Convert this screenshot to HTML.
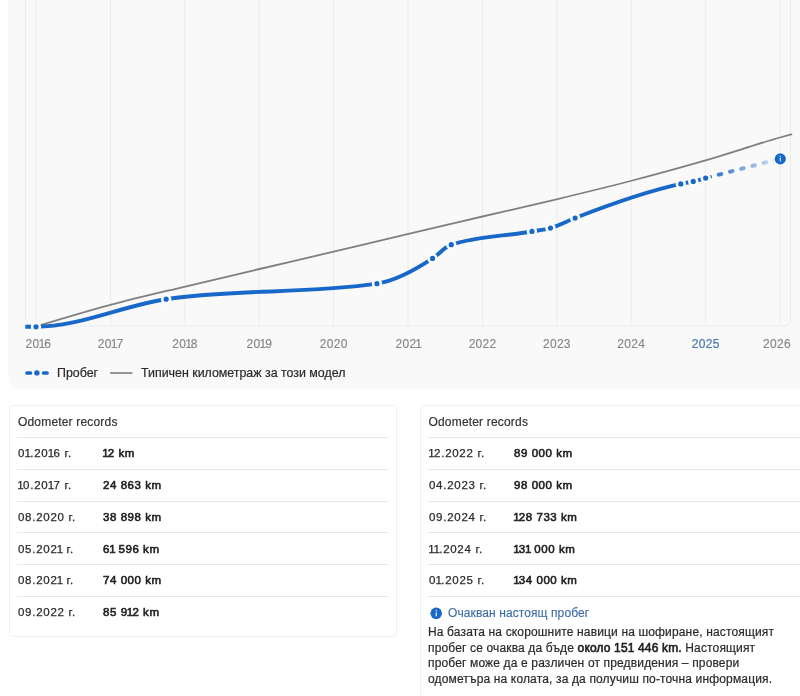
<!DOCTYPE html>
<html><head><meta charset="utf-8">
<style>
*{box-sizing:border-box;margin:0;padding:0}
html,body{width:800px;height:696px;overflow:hidden;background:#fff}
body{position:relative;-webkit-font-smoothing:antialiased;font-family:"Liberation Sans",sans-serif;color:#222}
.panel{position:absolute;left:8px;top:-30px;width:830px;height:418.5px;background:#f9f9f9;border-radius:12px}
svg.chart{position:absolute;left:0;top:0;width:800px;height:400px;overflow:visible}
.lab{position:absolute;top:337px;font-size:12px;line-height:14px;color:#868686;white-space:nowrap;-webkit-text-stroke:0.15px #868686}
.lab.c{width:60px;text-align:center}
.lab{letter-spacing:0.3px}
.lab i{font-style:normal;letter-spacing:-1.0px;margin-left:-1.0px}
.lab.cur{color:#4a77ab;-webkit-text-stroke:0.2px #4a77ab}
.legend{position:absolute;top:365.5px;left:25px;height:14px;font-size:12.4px;line-height:14px;color:#2a2a2a;white-space:nowrap;-webkit-text-stroke:0.2px #2a2a2a}
.legend span{position:absolute;top:0}
.card{position:absolute;top:405px;border:1px solid #f0f0f0;border-radius:3.5px;background:#fff}
.card h3{font-weight:normal;font-size:12px;line-height:14px;color:#333;position:absolute;left:7.5px;top:8.5px;white-space:nowrap;letter-spacing:0.18px;-webkit-text-stroke:0.2px #333}
.rows{position:absolute;left:6px;right:7px;top:31px}
.row{height:31.75px;border-top:1px solid #e8e8e8;position:relative;font-size:11.5px;color:#333}
.row .d{position:absolute;left:1px;color:#2a2a2a;-webkit-text-stroke:0.25px #2a2a2a;top:8.4px;line-height:14px;white-space:nowrap;letter-spacing:0.72px}
.row .d i{font-style:normal;letter-spacing:-0.65px;margin-left:-0.65px}
.row b{position:absolute;left:86px;top:8.4px;line-height:14px;white-space:nowrap;color:#1e1e1e;font-weight:normal;-webkit-text-stroke:0.6px #1e1e1e;letter-spacing:0.55px}
.row b i{font-style:normal;letter-spacing:-0.8px;margin-left:-0.8px}
.exp{position:absolute;left:27px;top:200px;font-size:12px;line-height:14px;color:#3f6fa8;white-space:nowrap;letter-spacing:0.1px;-webkit-text-stroke:0.15px #3f6fa8}
.para{position:absolute;left:7px;top:219.3px;font-size:12px;line-height:15.6px;color:#2a2a2a;white-space:nowrap;letter-spacing:0.15px;-webkit-text-stroke:0.2px #2a2a2a}
.para b{color:#1e1e1e;font-weight:normal;-webkit-text-stroke:0.6px #1e1e1e;letter-spacing:0.15px}
</style></head><body><div id="w" style="position:absolute;left:0;top:0;width:800px;height:696px;will-change:transform">
<div class="panel"></div>
<svg class="chart" viewBox="0 0 800 400">
<defs>
<linearGradient id="pg" gradientUnits="userSpaceOnUse" x1="705" y1="0" x2="780" y2="0">
<stop offset="0" stop-color="#1868c9" stop-opacity="1"/>
<stop offset="1" stop-color="#1868c9" stop-opacity="0.12"/>
</linearGradient>
</defs>
<g stroke="#ececec" stroke-width="1" fill="none"><line x1="36.00" y1="-30" x2="36.00" y2="326" /><line x1="110.54" y1="-30" x2="110.54" y2="326" /><line x1="184.88" y1="-30" x2="184.88" y2="326" /><line x1="259.22" y1="-30" x2="259.22" y2="326" /><line x1="333.56" y1="-30" x2="333.56" y2="326" /><line x1="408.10" y1="-30" x2="408.10" y2="326" /><line x1="482.44" y1="-30" x2="482.44" y2="326" /><line x1="556.78" y1="-30" x2="556.78" y2="326" /><line x1="631.12" y1="-30" x2="631.12" y2="326" /><line x1="705.66" y1="-30" x2="705.66" y2="326" /><line x1="780.00" y1="-30" x2="780.00" y2="326" />
<path d="M25.5,-30 V318 Q25.5,326 33.5,326 H782.5 Q790.5,326 790.5,318 V-30"/></g>
<path d="M36.00,326.60 C60.77,319.10 85.53,311.61 110.30,304.95 C135.30,298.23 160.30,292.52 185.30,286.50 C210.03,280.54 234.77,274.80 259.50,269.00 C284.23,263.20 308.97,257.54 333.70,251.70 C358.63,245.81 383.57,239.70 408.50,233.80 C433.17,227.97 457.83,222.25 482.50,216.50 C507.17,210.75 531.83,205.22 556.50,199.30 C581.17,193.38 605.83,187.44 630.50,181.00 C655.50,174.48 680.50,167.68 705.50,160.40 C730.33,153.17 755.17,144.56 780.00,137.50 C783.80,136.42 787.60,135.36 791.40,134.30" fill="none" stroke="#808080" stroke-width="1.8" stroke-linecap="round"/>
<path d="M25.30,326.82 C28.87,326.82 32.43,326.82 36.00,326.81 C79.38,326.70 122.76,305.64 166.14,299.22 C236.41,288.84 306.68,294.03 376.94,283.65 C395.47,280.91 414.01,270.75 432.54,258.45 C438.79,254.31 445.03,246.73 451.28,244.69 C478.16,235.87 505.05,236.33 531.93,231.46 C538.11,230.35 544.29,229.76 550.47,228.04 C558.68,225.74 566.90,221.25 575.11,218.05 C610.34,204.32 645.58,191.52 680.81,183.94 C684.95,183.04 689.10,182.39 693.24,181.42 C697.38,180.44 701.52,179.27 705.66,178.09" fill="none" stroke="#1868c9" stroke-width="3.9" stroke-linecap="butt"/>
<path d="M705.66,178.09 L780.00,158.73" fill="none" stroke="url(#pg)" stroke-width="3.9" stroke-dasharray="2.6 9.0" stroke-dashoffset="-1.95" stroke-linecap="round"/>
<g fill="#fcfcfc"><circle cx="36.00" cy="326.81" r="5.2"/><circle cx="166.14" cy="299.22" r="5.2"/><circle cx="376.94" cy="283.65" r="5.2"/><circle cx="432.54" cy="258.45" r="5.2"/><circle cx="451.28" cy="244.69" r="5.2"/><circle cx="531.93" cy="231.46" r="5.2"/><circle cx="550.47" cy="228.04" r="5.2"/><circle cx="575.11" cy="218.05" r="5.2"/><circle cx="680.81" cy="183.94" r="5.2"/><circle cx="693.24" cy="181.42" r="5.2"/><circle cx="705.66" cy="178.09" r="5.2"/></g>
<g fill="#1868c9"><circle cx="36.00" cy="326.81" r="2.6"/><circle cx="166.14" cy="299.22" r="2.6"/><circle cx="376.94" cy="283.65" r="2.6"/><circle cx="432.54" cy="258.45" r="2.6"/><circle cx="451.28" cy="244.69" r="2.6"/><circle cx="531.93" cy="231.46" r="2.6"/><circle cx="550.47" cy="228.04" r="2.6"/><circle cx="575.11" cy="218.05" r="2.6"/><circle cx="680.81" cy="183.94" r="2.6"/><circle cx="693.24" cy="181.42" r="2.6"/><circle cx="705.66" cy="178.09" r="2.6"/></g>
<circle cx="780.3" cy="158.9" r="6.6" fill="#fdfdfd"/>
<circle cx="780.3" cy="158.9" r="5.6" fill="#1868c9"/>
<circle cx="780.3" cy="156.4" r="0.7" fill="#fff" opacity="0.9"/>
<rect x="779.75" y="157.8" width="1.1" height="3.6" rx="0.4" fill="#fff" opacity="0.9"/>
</svg>
<div class="lab" style="left:25.5px;">20<i>1</i>6</div><div class="lab c" style="left:80.54px;padding-left:0.3px">20<i>1</i>7</div><div class="lab c" style="left:154.88px;padding-left:0.3px">20<i>1</i>8</div><div class="lab c" style="left:229.22px;padding-left:0.3px">20<i>1</i>9</div><div class="lab c" style="left:303.56px;padding-left:0.3px">2020</div><div class="lab c" style="left:378.10px;padding-left:0.3px">202<i>1</i></div><div class="lab c" style="left:452.44px;padding-left:0.3px">2022</div><div class="lab c" style="left:526.78px;padding-left:0.3px">2023</div><div class="lab c" style="left:601.12px;padding-left:0.3px">2024</div><div class="lab cur c" style="left:675.66px;padding-left:0.3px">2025</div><div class="lab" style="left:0px;width:0;"><span style="position:absolute;right:-791px">2026</span></div>
<div class="legend">
<svg style="position:absolute;left:0;top:0" width="26" height="14" viewBox="0 0 26 14"><g fill="#1868c9"><rect x="0.3" y="5.2" width="6.9" height="3.6" rx="1.6"/><circle cx="11.9" cy="6.9" r="2.7"/><rect x="16.9" y="5.2" width="6.9" height="3.6" rx="1.6"/></g></svg>
<span style="left:32px">Пробег</span>
<svg style="position:absolute;left:85px;top:0" width="23" height="14"><line x1="0" y1="7" x2="22.4" y2="7" stroke="#858585" stroke-width="1.7"/></svg>
<span style="left:116px">Типичен километраж за този модел</span>
</div>
<div class="card" style="left:9px;width:387.5px;height:231.5px;">
<h3 style="left:8px">Odometer records</h3>
<div class="rows" style="left:7px;right:8px"><div class="row"><span class="d">0<i>1</i>.20<i>1</i>6 г.</span><b><i>1</i>2 km</b></div><div class="row"><span class="d"><i>1</i>0.20<i>1</i>7 г.</span><b>24 863 km</b></div><div class="row"><span class="d">08.2020 г.</span><b>38 898 km</b></div><div class="row"><span class="d">05.202<i>1</i> г.</span><b>6<i>1</i> 596 km</b></div><div class="row"><span class="d">08.202<i>1</i> г.</span><b>74 000 km</b></div><div class="row"><span class="d">09.2022 г.</span><b>85 9<i>1</i>2 km</b></div></div>
</div>
<div class="card" style="left:420px;width:400px;height:320px;">
<h3>Odometer records</h3>
<div class="rows" style="left:7px;right:-20px"><div class="row"><span class="d"><i>1</i>2.2022 г.</span><b>89 000 km</b></div><div class="row"><span class="d">04.2023 г.</span><b>98 000 km</b></div><div class="row"><span class="d">09.2024 г.</span><b><i>1</i>28 733 km</b></div><div class="row"><span class="d"><i>1</i><i>1</i>.2024 г.</span><b><i>1</i>3<i>1</i> 000 km</b></div><div class="row"><span class="d">0<i>1</i>.2025 г.</span><b><i>1</i>34 000 km</b></div><div class="row" style="height:1px"></div></div>
<svg style="position:absolute;left:8.75px;top:200.5px" width="14" height="14" viewBox="0 0 14 14"><circle cx="6.2" cy="6.3" r="5.8" fill="#1868c9"/><circle cx="6.2" cy="3.8" r="0.75" fill="#fff"/><rect x="5.65" y="5.3" width="1.1" height="4.2" rx="0.4" fill="#fff"/></svg>
<div class="exp">Очакван настоящ пробег</div>
<div class="para">На базата на скорошните навици на шофиране, настоящият<br>пробег се очаква да бъде <b>около 151 446 km.</b> Настоящият<br>пробег може да е различен от предвидения – провери<br>одометъра на колата, за да получиш по-точна информация.</div>
</div>
</div></body></html>
